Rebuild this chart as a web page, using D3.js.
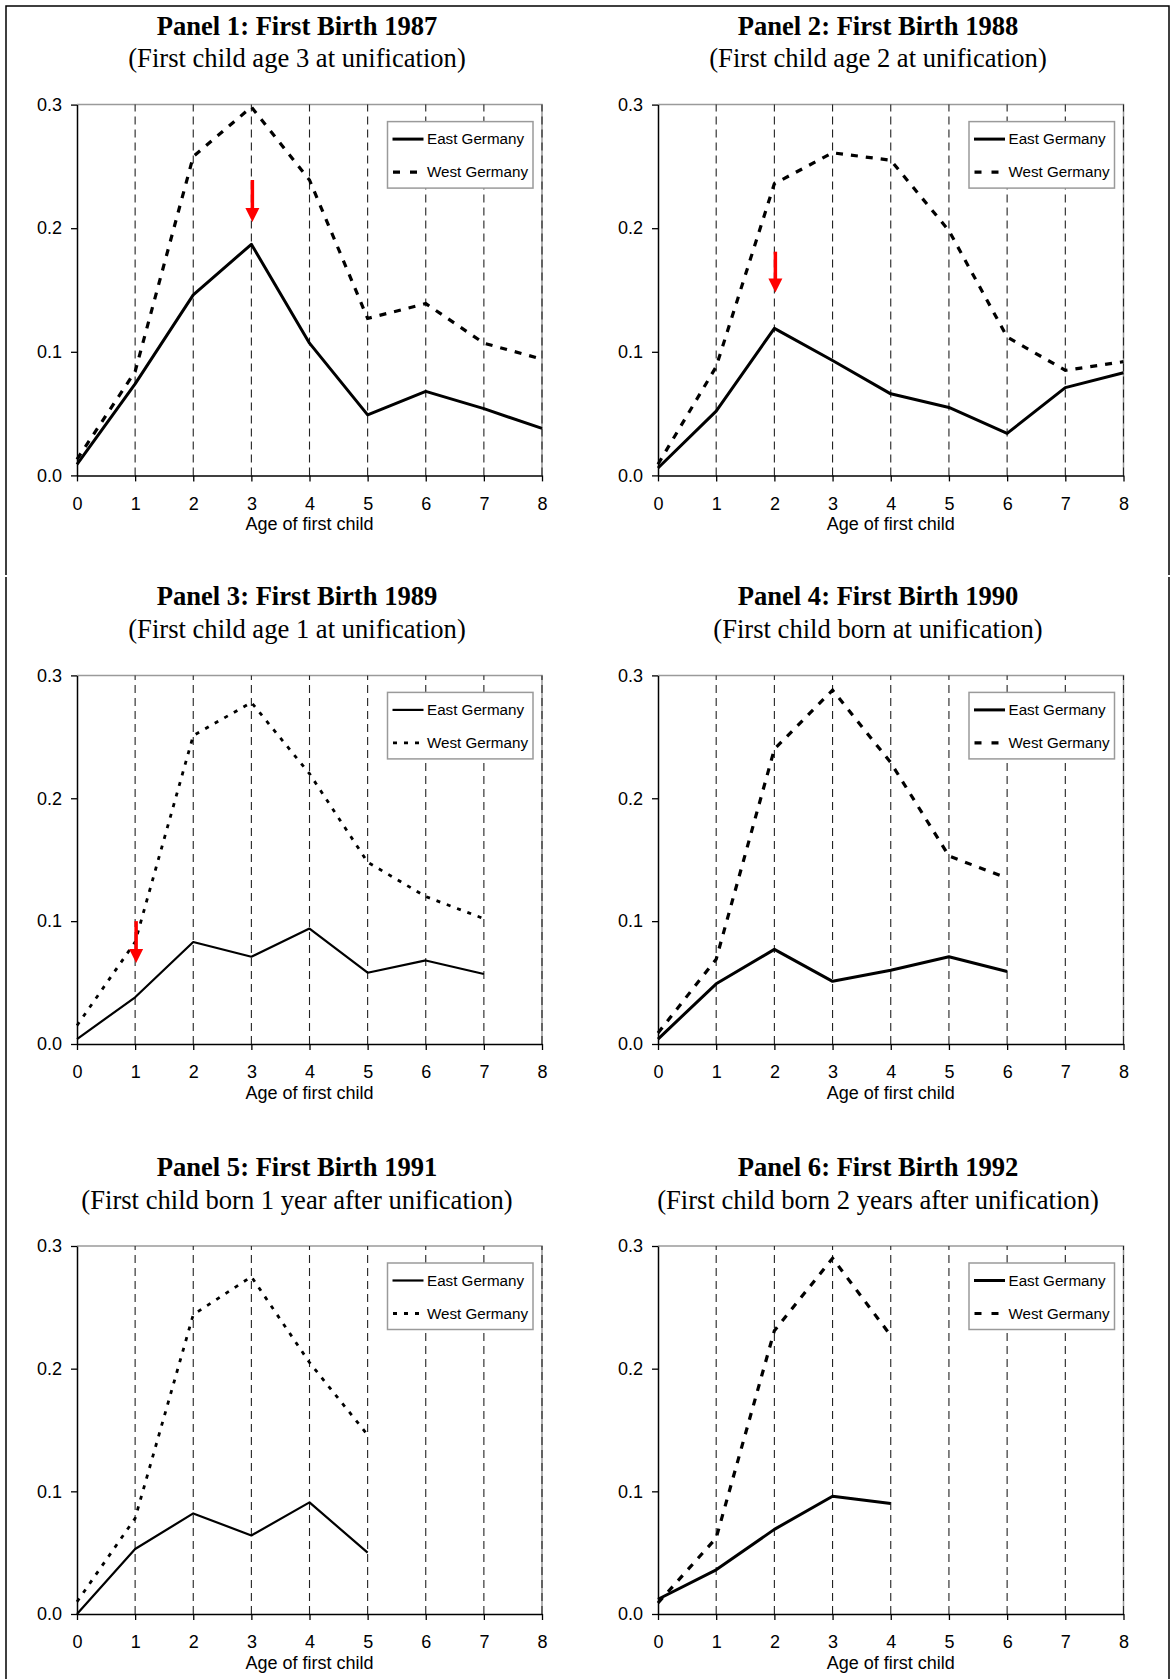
<!DOCTYPE html>
<html>
<head>
<meta charset="utf-8">
<script src="https://cdn.jsdelivr.net/npm/d3@7"></script>
<style>
  body { margin: 0; background: #fff; }
  svg { display: block; }
</style>
</head>
<body>
<div id="chart"></div>
<script>
// Data
var ages = [0, 1, 2, 3, 4, 5, 6, 7, 8];
var yTicks = [0, 0.1, 0.2, 0.3];

var titles = ["Panel 1: First Birth 1987", "Panel 2: First Birth 1988", "Panel 3: First Birth 1989",
              "Panel 4: First Birth 1990", "Panel 5: First Birth 1991", "Panel 6: First Birth 1992"];
var subtitles = ["(First child age 3 at unification)", "(First child age 2 at unification)",
                 "(First child age 1 at unification)", "(First child born at unification)",
                 "(First child born 1 year after unification)", "(First child born 2 years after unification)"];

var east1987 = [0.009, 0.074, 0.146, 0.187, 0.107, 0.049, 0.068, 0.054, 0.038];
var west1987 = [0.013, 0.084, 0.258, 0.298, 0.239, 0.127, 0.139, 0.107, 0.094];
var east1988 = [0.006, 0.052, 0.119, 0.093, 0.066, 0.055, 0.034, 0.071, 0.083];
var west1988 = [0.009, 0.088, 0.236, 0.261, 0.255, 0.198, 0.112, 0.085, 0.092];
var east1989 = [0.004, 0.038, 0.083, 0.071, 0.094, 0.058, 0.068, 0.057];
var west1989 = [0.015, 0.083, 0.251, 0.278, 0.220, 0.148, 0.120, 0.102];
var east1990 = [0.004, 0.049, 0.077, 0.051, 0.060, 0.071, 0.059];
var west1990 = [0.009, 0.069, 0.240, 0.288, 0.229, 0.153, 0.135];
var east1991 = [0.000, 0.053, 0.082, 0.064, 0.091, 0.050];
var west1991 = [0.010, 0.078, 0.244, 0.275, 0.205, 0.146];
var east1992 = [0.012, 0.036, 0.069, 0.096, 0.090];
var west1992 = [0.009, 0.062, 0.231, 0.290, 0.227];

var eastSeries = [east1987, east1988, east1989, east1990, east1991, east1992];
var westSeries = [west1987, west1988, west1989, west1990, west1991, west1992];

// red arrows: age, start value, tip value (panels 1-3)
var arrowAge = [3, 2, 1];
var arrowFrom = [0.239, 0.181, 0.100];
var arrowTo = [0.205, 0.148, 0.066];

// Layout
var W = 1170, H = 1679;
var colX0 = [77, 658];       // pixel of age 0
var colX8 = [542, 1123.5];   // pixel of age 8
var rowTop = [104.6, 675.4, 1246];
var rowBottom = [475.4, 1044, 1614];

var svg = d3.select("#chart").append("svg")
            .attr("width", W)
            .attr("height", H);

// outer frame (two boxes, left/right sides broken at 576)
var frame = svg.append("g").attr("stroke", "#000").attr("stroke-width", 1.5).attr("fill", "none");
frame.append("path").attr("d", "M6,575V6H1169V575");
frame.append("path").attr("d", "M6,577V1679M1169,577V1679");

var serif = "'Liberation Serif', 'Times New Roman', serif";
var sans = "'Liberation Sans', Arial, sans-serif";

for (var p = 0; p < 6; ++p) {
    var col = p % 2, row = Math.floor(p / 2);
    var thin = (p == 2 || p == 4);   // panels 3 and 5 use thinner / dotted styles

    var x = d3.scaleLinear().domain([0, 8]).range([colX0[col], colX8[col]]);
    var y = d3.scaleLinear().domain([0, 0.3]).range([rowBottom[row], rowTop[row]]);
    var g = svg.append("g");

    // titles
    var cx = colX0[col] + 220;
    g.append("text")
     .attr("x", cx).attr("y", rowTop[row] - 70)
     .attr("text-anchor", "middle")
     .attr("font-family", serif).attr("font-weight", "bold").attr("font-size", 26.6)
     .text(titles[p]);
    g.append("text")
     .attr("x", cx).attr("y", rowTop[row] - 37.5)
     .attr("text-anchor", "middle")
     .attr("font-family", serif).attr("font-size", 26.6)
     .text(subtitles[p]);

    // grey frame top and right
    g.append("path")
     .attr("d", "M" + x(0) + "," + y(0.3) + "H" + x(8) + "V" + y(0))
     .attr("fill", "none").attr("stroke", "#9a9a9a").attr("stroke-width", 1.5);

    // vertical dashed grid
    g.append("g").selectAll("line")
     .data(ages.slice(1))
     .enter().append("line")
     .attr("x1", d => x(d)).attr("x2", d => x(d))
     .attr("y1", y(0)).attr("y2", y(0.3))
     .attr("stroke", "#222").attr("stroke-width", 1.1)
     .attr("stroke-dasharray", "8,5");

    // axes
    var yAxis = d3.axisLeft(y).tickValues(yTicks).tickFormat(d3.format(".1f"))
                  .tickSize(6).tickSizeOuter(0).tickPadding(9);
    var xAxis = d3.axisBottom(x).tickValues(ages).tickFormat(d3.format("d"))
                  .tickSize(6).tickSizeOuter(0).tickPadding(15.5);

    var ya = g.append("g").attr("transform", "translate(" + x(0) + ",0)").call(yAxis);
    var xa = g.append("g").attr("transform", "translate(0," + y(0) + ")").call(xAxis);
    [ya, xa].forEach(function(a) {
        a.select(".domain").attr("stroke", "#000").attr("stroke-width", 1.5);
        a.selectAll(".tick line").attr("stroke", "#000").attr("stroke-width", 1.3);
        a.selectAll(".tick text").attr("font-family", sans).attr("font-size", 18).attr("fill", "#000");
    });

    g.append("text")
     .attr("x", (x(0) + x(8)) / 2).attr("y", y(0) + 55)
     .attr("text-anchor", "middle")
     .attr("font-family", sans).attr("font-size", 18)
     .text("Age of first child");

    // lines
    var line = d3.line().x((d, i) => x(ages[i])).y(d => y(d));

    g.append("path")
     .attr("d", line(westSeries[p]))
     .attr("fill", "none").attr("stroke", "#000")
     .attr("stroke-width", thin ? 2.8 : 3.2)
     .attr("stroke-dasharray", thin ? "4,7" : "7,8");

    g.append("path")
     .attr("d", line(eastSeries[p]))
     .attr("fill", "none").attr("stroke", "#000")
     .attr("stroke-linejoin", "round")
     .attr("stroke-width", thin ? 2.2 : 3);

    // red arrow
    if (p < 3) {
        var ax = x(arrowAge[p]) + 1;
        var y1 = y(arrowFrom[p]), y2 = y(arrowTo[p]);
        g.append("line")
         .attr("x1", ax).attr("x2", ax)
         .attr("y1", y1).attr("y2", y2 - 12)
         .attr("stroke", "#ff0000").attr("stroke-width", 3.5);
        g.append("path")
         .attr("d", "M" + (ax - 7) + "," + (y2 - 14) + "L" + (ax + 7) + "," + (y2 - 14) + "L" + ax + "," + y2 + "Z")
         .attr("fill", "#ff0000");
    }

    // legend
    var lx = x(8) - 154.5, ly = y(0.3) + 17;
    var leg = g.append("g").attr("transform", "translate(" + lx + "," + ly + ")");
    leg.append("rect")
       .attr("width", 145.5).attr("height", 66.5)
       .attr("fill", "#fff").attr("stroke", "#9a9a9a").attr("stroke-width", 1.5);
    leg.append("line")
       .attr("x1", 5).attr("x2", 36).attr("y1", 17.5).attr("y2", 17.5)
       .attr("stroke", "#000").attr("stroke-width", thin ? 2.2 : 3);
    leg.append("line")
       .attr("x1", 5.5).attr("x2", thin ? 37 : 30).attr("y1", 50.5).attr("y2", 50.5)
       .attr("stroke", "#000").attr("stroke-width", thin ? 2.8 : 3.2)
       .attr("stroke-dasharray", thin ? "4,7" : "7,10");
    leg.selectAll("text")
       .data(["East Germany", "West Germany"])
       .enter().append("text")
       .attr("x", 39.5)
       .attr("y", (d, i) => (i == 0 ? 17.5 : 50.5) + 5.3)
       .attr("font-family", sans).attr("font-size", 15.2)
       .text(d => d);
}
</script>
</body>
</html>
